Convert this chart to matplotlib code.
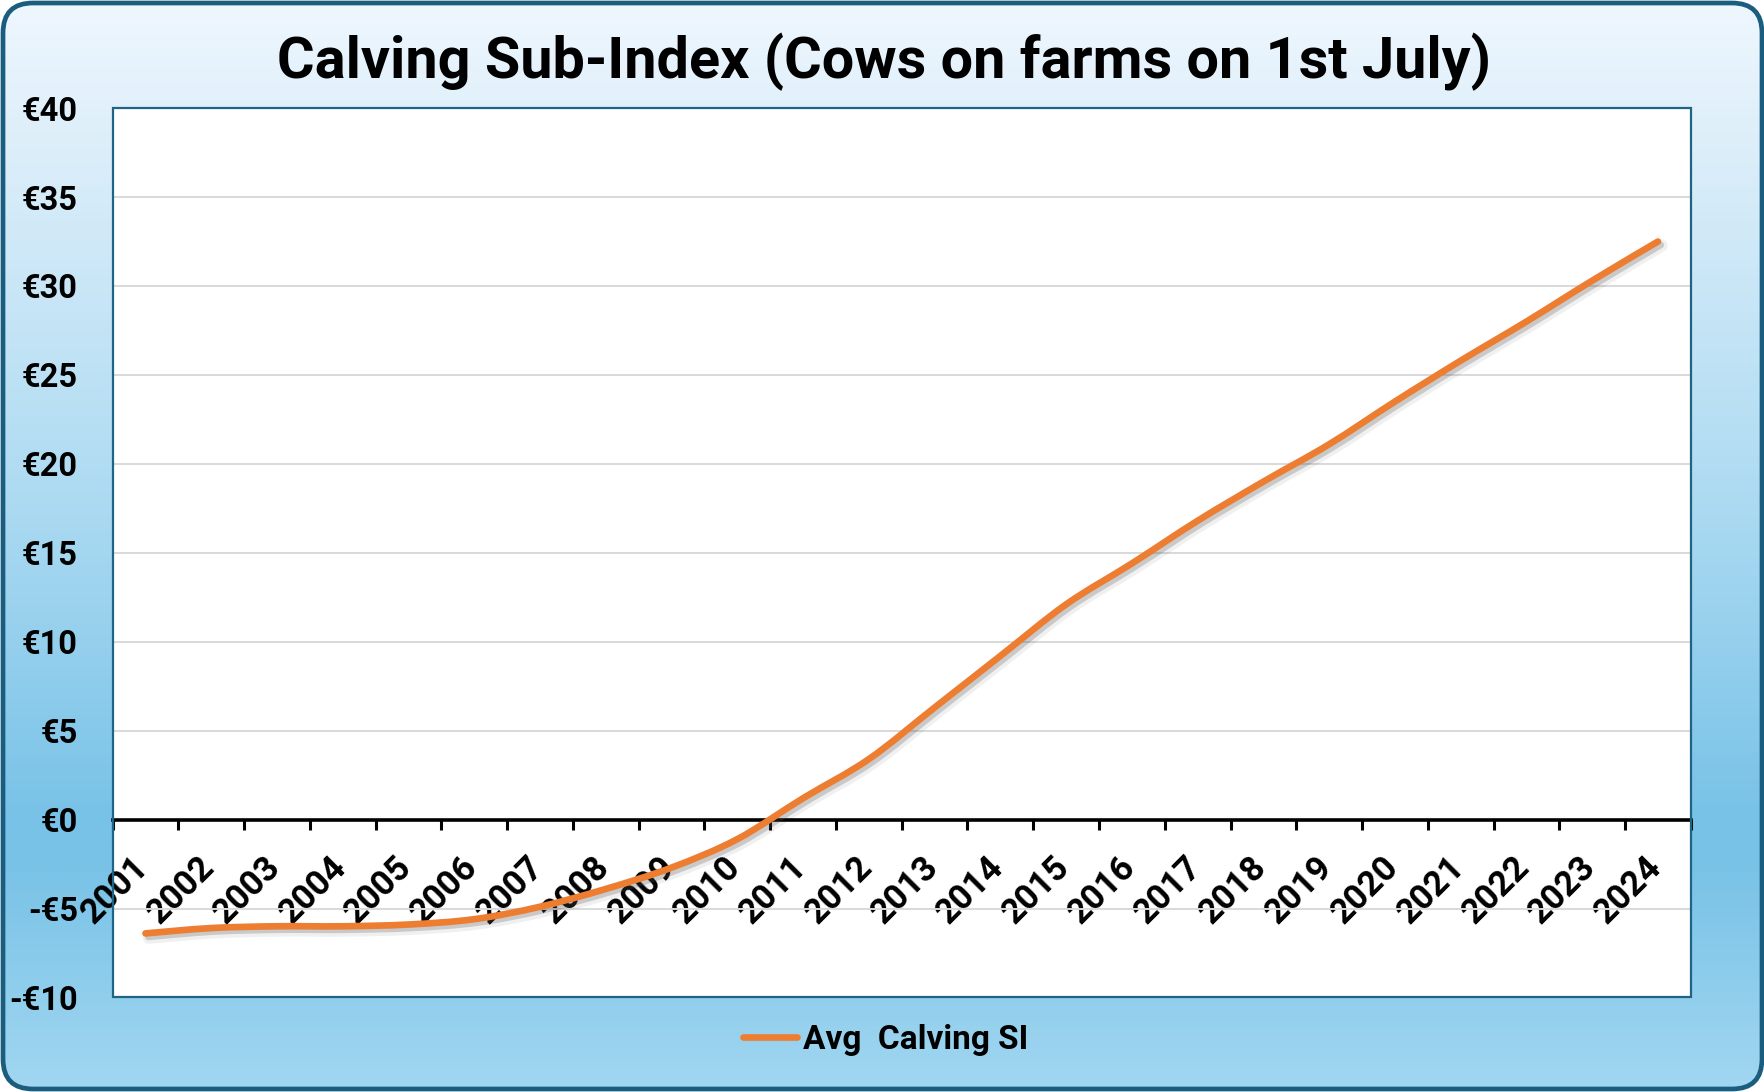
import numpy as np
import matplotlib
matplotlib.use("Agg")
import matplotlib.pyplot as plt
from matplotlib.patches import FancyBboxPatch, PathPatch, Rectangle
from matplotlib.path import Path
from matplotlib.lines import Line2D
from matplotlib.transforms import ScaledTranslation
import matplotlib.patheffects as pe

# ---- data ----
years = [str(y) for y in range(2001, 2025)]
calving_si = [-6.4, -6.1, -6.0, -6.0, -5.9, -5.6, -4.9, -3.9, -2.7, -1.1, 1.2, 3.4,
              6.3, 9.2, 12.1, 14.4, 16.8, 19.0, 21.1, 23.5, 25.8, 28.0, 30.3, 32.5]
y_ticks = list(range(-10, 45, 5))
title = "Calving Sub-Index (Cows on farms on 1st July)"
series_name = "Avg  Calving SI"

plt.rcParams['font.family'] = ['Roboto', 'DejaVu Sans']
plt.rcParams['font.weight'] = 'bold'

W, H = 1765, 1092
fig = plt.figure(figsize=(W / 100, H / 100), dpi=100, facecolor='white')

# ---- gradient background with rounded border ----
bg = fig.add_axes([0, 0, 1, 1], zorder=0)
bg.set_xlim(0, W)
bg.set_ylim(0, H)
bg.set_axis_off()
stops_pos = [0.0, 0.12, 0.45, 0.75, 0.80, 1.0]
stops_col = [(0xEF, 0xF7, 0xFE), (0xDE, 0xEF, 0xFA), (0xAE, 0xDB, 0xF2),
             (0x78, 0xC2, 0xE7), (0x7A, 0xC3, 0xE7), (0xA2, 0xD7, 0xF1)]
t = np.linspace(0, 1, 512)
grad = np.zeros((512, 1, 3))
for c in range(3):
    grad[:, 0, c] = np.interp(t, stops_pos, [s[c] / 255 for s in stops_col])
im = bg.imshow(grad, extent=[0, W, 0, H], aspect='auto', origin='upper')
frame = FancyBboxPatch((3, 3), W - 6, H - 6, boxstyle="round,pad=0,rounding_size=30",
                       facecolor='none', edgecolor='#1B5D7F', linewidth=3.4)
bg.add_patch(frame)
im.set_clip_path(frame)

# ---- main axes ----
ax = fig.add_axes([0.0638, 0.0866, 0.8942, 0.8144], zorder=2)
ax.set_facecolor('white')
x = np.arange(len(years))
ax.set_xlim(-0.5, len(years) - 0.5)
ax.set_ylim(-10, 40)

ax.set_yticks(y_ticks)
ax.set_yticklabels([("-€%d" % abs(v)) if v < 0 else ("€%d" % v) for v in y_ticks])
ax.tick_params(axis='y', length=0, pad=25, labelsize=23.5)
ax.yaxis.grid(True, color='#D9D9D9', linewidth=1.4)
ax.set_axisbelow(True)

for s in ['top', 'left', 'right']:
    ax.spines[s].set_visible(False)
ax.spines['bottom'].set_position(('data', 0))
ax.spines['bottom'].set_color('black')
ax.spines['bottom'].set_linewidth(2.6)
ax.spines['bottom'].set_zorder(3)

ax.set_xticks(x)
ax.set_xticklabels(years, rotation=45, ha='right', va='top', fontsize=25)
ax.set_xticks(np.arange(-0.5, len(years)), minor=True)
ax.tick_params(axis='x', which='major', length=0, pad=22)
ax.tick_params(axis='x', which='minor', length=7, width=2.2, color='black', direction='out')
off = ScaledTranslation(10 / 100, 0, fig.dpi_scale_trans)
for lab in ax.get_xticklabels():
    lab.set_transform(lab.get_transform() + off)

# plot area border
ax.add_patch(Rectangle((0, 0), 1, 1, transform=ax.transAxes, fill=False,
                       edgecolor='#1F6385', linewidth=1.6, clip_on=False, zorder=4))

# ---- smoothed line (Catmull-Rom bezier) ----
xs = x.astype(float)
ys = np.array(calving_si, dtype=float)
n = len(xs)
verts = [(xs[0], ys[0])]
codes = [Path.MOVETO]
for i in range(n - 1):
    p0 = (xs[max(i - 1, 0)], ys[max(i - 1, 0)])
    p1 = (xs[i], ys[i])
    p2 = (xs[i + 1], ys[i + 1])
    p3 = (xs[min(i + 2, n - 1)], ys[min(i + 2, n - 1)])
    c1 = (p1[0] + (p2[0] - p0[0]) / 6, p1[1] + (p2[1] - p0[1]) / 6)
    c2 = (p2[0] - (p3[0] - p1[0]) / 6, p2[1] - (p3[1] - p1[1]) / 6)
    verts += [c1, c2, p2]
    codes += [Path.CURVE4] * 3
orange = '#ED7D31'
patch = PathPatch(Path(verts, codes), facecolor='none', edgecolor=orange, linewidth=4.8,
                  capstyle='round', joinstyle='round', zorder=5, clip_on=False)
patch.set_path_effects([
    pe.Stroke(linewidth=9, foreground='#000000', alpha=0.06, offset=(2.5, -3)),
    pe.SimpleLineShadow(offset=(2, -2.5), shadow_color='#555555', alpha=0.25),
    pe.Normal()])
ax.add_patch(patch)

# ---- title ----
fig.text(0.5007, 0.943, title, ha='center', va='center', fontsize=41.5, fontweight='bold')

# ---- legend ----
handle = Line2D([], [], color=orange, linewidth=4.8, solid_capstyle='round')
fig.legend([handle], [series_name], loc='center', bbox_to_anchor=(0.502, 0.0476),
           frameon=False, handlelength=1.6, handletextpad=0.2,
           prop={'weight': 'bold', 'size': 24})

fig.savefig('out.png', dpi=100, facecolor='white')
